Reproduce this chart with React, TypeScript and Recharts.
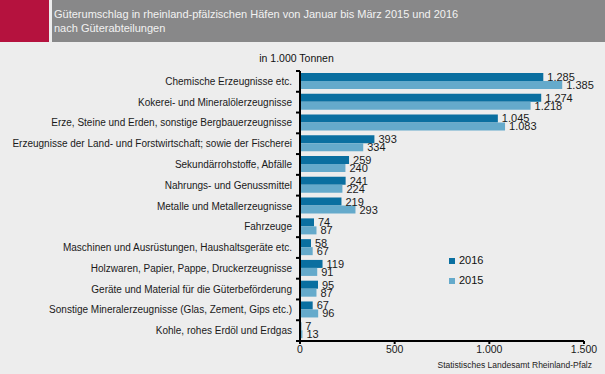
import { Bar, BarChart, LabelList, Legend, XAxis, YAxis } from "recharts";

const categories = [
  "Chemische Erzeugnisse etc.",
  "Kokerei- und Mineralölerzeugnisse",
  "Erze, Steine und Erden, sonstige Bergbauerzeugnisse",
  "Erzeugnisse der Land- und Forstwirtschaft; sowie der Fischerei",
  "Sekundärrohstoffe, Abfälle",
  "Nahrungs- und Genussmittel",
  "Metalle und Metallerzeugnisse",
  "Fahrzeuge",
  "Maschinen und Ausrüstungen, Haushaltsgeräte etc.",
  "Holzwaren, Papier, Pappe, Druckerzeugnisse",
  "Geräte und Material für die Güterbeförderung",
  "Sonstige Mineralerzeugnisse (Glas, Zement, Gips etc.)",
  "Kohle, rohes Erdöl und Erdgas",
];
const values2016 = [1285, 1274, 1045, 393, 259, 241, 219, 74, 58, 119, 95, 67, 7];
const values2015 = [1385, 1218, 1083, 334, 240, 224, 293, 87, 67, 91, 87, 96, 13];
const xTicks = [0, 500, 1000, 1500];

const data = categories.map((name, i) => ({
  name,
  y2016: values2016[i],
  y2015: values2015[i],
}));

const W = 605;
const H = 374;
const PLOT_TOP = 71;
const PLOT_BOTTOM = 341;
const HALF_BAND = (PLOT_BOTTOM - PLOT_TOP) / categories.length / 2;

const de = (v: any) => String(v).replace(/\B(?=(\d{3})+(?!\d))/g, ".");
const font = "'Liberation Sans', Arial, sans-serif";

function CatTick(props: any) {
  const { x, y, payload, index } = props;
  const ax = x + 8;
  return (
    <g>
      <line x1={ax - 4} x2={ax} y1={y - HALF_BAND} y2={y - HALF_BAND} stroke="#000" strokeWidth={2} />
      {index === categories.length - 1 && (
        <line x1={ax - 4} x2={ax} y1={y + HALF_BAND} y2={y + HALF_BAND} stroke="#000" strokeWidth={2} />
      )}
      <text x={x} y={y} dy={3.5} textAnchor="end" fontSize={10} fill="#1a1a1a" fontFamily={font}>
        {payload.value}
      </text>
    </g>
  );
}

export default function App() {
  return (
    <div style={{ position: "absolute", left: 0, top: 0, width: W, height: H, background: "#ededed", fontFamily: font }}>
      <div style={{ position: "absolute", left: 0, top: 0, width: 49, height: 42, background: "#b5123e" }} />
      <div style={{ position: "absolute", left: 52, top: 0, width: W - 52, height: 42, background: "#888889" }} />
      <div style={{ position: "absolute", left: 54, top: 7, color: "#f2f2f2", fontSize: 11, lineHeight: "14px" }}>
        Güterumschlag in rheinland-pfälzischen Häfen von Januar bis März 2015 und 2016
        <br />
        nach Güterabteilungen
      </div>
      <div style={{ position: "absolute", left: 0, width: W - 12, top: 52, textAlign: "center", fontSize: 10.5, color: "#111" }}>
        in 1.000 Tonnen
      </div>
      <div style={{ position: "absolute", right: 13, top: 360, fontSize: 8.5, color: "#222" }}>
        Statistisches Landesamt Rheinland-Pfalz
      </div>
      <div style={{ position: "absolute", left: 0, top: 0 }}>
        <BarChart
          width={W}
          height={H}
          data={data}
          layout="vertical"
          margin={{ top: PLOT_TOP, right: 21, bottom: 13, left: 0 }}
          barSize={8}
          barGap={0}
        >
          <XAxis
            type="number"
            domain={[0, 1500]}
            ticks={xTicks}
            tickFormatter={de}
            height={20}
            tickSize={3}
            axisLine={{ stroke: "#000", strokeWidth: 2 }}
            tickLine={{ stroke: "#000", strokeWidth: 2 }}
            tick={{ fontSize: 10.5, fill: "#1a1a1a", fontFamily: font }}
          />
          <YAxis
            type="category"
            dataKey="name"
            width={300}
            tick={<CatTick />}
            tickLine={false}
            tickSize={6}
            tickMargin={2}
            interval={0}
            axisLine={{ stroke: "#000", strokeWidth: 2 }}
          />
          <Legend
            layout="vertical"
            verticalAlign="middle"
            align="center"
            iconType="square"
            iconSize={6}
            itemSorter={(item: any) => -Number(item.value)}
            wrapperStyle={{ left: 449, top: 250, width: 60, height: 40, fontSize: 11, lineHeight: "20px", color: "#111" }}
            formatter={(v: any) => <span style={{ color: "#111" }}>{v}</span>}
          />
          <Bar dataKey="y2016" name="2016" fill="#0a6fa0" isAnimationActive={false}>
            <LabelList dataKey="y2016" position="right" offset={4} formatter={de} fontSize={11} fill="#1a1a1a" fontFamily={font} />
          </Bar>
          <Bar dataKey="y2015" name="2015" fill="#65aacb" isAnimationActive={false}>
            <LabelList dataKey="y2015" position="right" offset={4} formatter={de} fontSize={11} fill="#1a1a1a" fontFamily={font} />
          </Bar>
        </BarChart>
      </div>
    </div>
  );
}
